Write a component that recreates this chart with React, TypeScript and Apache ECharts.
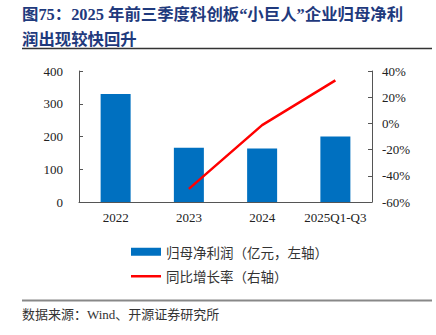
import React, { useEffect, useRef } from "react";
import * as echarts from "echarts";

const categories = ["2022", "2023", "2024", "2025Q1-Q3"];
const profitValues = [330, 166, 163, 200];
const growthValues: (number | null)[] = [null, -50, -1.3, 32.8];
const profitName = "归母净利润（亿元，左轴）";
const growthName = "同比增长率（右轴）";
const titleLine1 = "图75：2025 年前三季度科创板“小巨人”企业归母净利";
const titleLine2 = "润出现较快回升";
const sourceText = "数据来源：Wind、开源证券研究所";

const serif = '"Liberation Serif", "Times New Roman", serif';
const titleFont = '"Liberation Serif", "Noto Sans CJK SC", serif';

export default function App() {
  const ref = useRef<HTMLDivElement>(null);
  useEffect(() => {
    if (!ref.current) return;
    const chart = echarts.init(ref.current, undefined, { renderer: "svg" });
    const axisColor = "#555";
    chart.setOption({
      animation: false,
      backgroundColor: "#fff",
      grid: { left: 79, right: 64, top: 71, bottom: 133 },
      legend: {
        orient: "vertical",
        left: 126,
        top: 240,
        itemWidth: 30,
        itemHeight: 8,
        itemGap: 11,
        symbolKeepAspect: true,
        textStyle: { fontSize: 13.5, color: "#333", fontFamily: '"Noto Sans CJK SC", sans-serif' },
        data: [
          { name: profitName, icon: "rect" },
          { name: growthName, icon: "path://M0,0L30,0L30,2.5L0,2.5Z" },
        ],
      },
      xAxis: {
        type: "category",
        data: categories,
        axisLine: { lineStyle: { color: axisColor, width: 1 } },
        axisTick: { inside: true, length: 4, lineStyle: { color: axisColor } },
        axisLabel: { color: "#222", fontSize: 13, fontFamily: serif, margin: 9, interval: 0 },
      },
      yAxis: [
        {
          type: "value",
          min: 0,
          max: 400,
          interval: 100,
          splitLine: { show: false },
          axisLine: { show: true, lineStyle: { color: axisColor } },
          axisTick: { show: true, inside: true, length: 4, lineStyle: { color: axisColor } },
          axisLabel: { color: "#222", fontSize: 13, fontFamily: serif, margin: 16 },
        },
        {
          type: "value",
          min: -60,
          max: 40,
          interval: 20,
          splitLine: { show: false },
          axisLine: { show: true, lineStyle: { color: axisColor } },
          axisTick: { show: true, inside: true, length: 4, lineStyle: { color: axisColor } },
          axisLabel: { color: "#222", fontSize: 13, fontFamily: serif, margin: 10, formatter: "{value}%" },
        },
      ],
      series: [
        {
          name: profitName,
          type: "bar",
          data: profitValues,
          barWidth: 30,
          itemStyle: { color: "#0070C0" },
        },
        {
          name: growthName,
          type: "line",
          yAxisIndex: 1,
          data: growthValues,
          symbol: "none",
          lineStyle: { color: "#FF0000", width: 2.5 },
          itemStyle: { color: "#FF0000" },
        },
      ],
      graphic: [
        {
          type: "text",
          left: 22,
          top: 6,
          style: { text: titleLine1, fontSize: 16.4, fontWeight: "bold", fill: "#1F3A7D", fontFamily: titleFont },
        },
        {
          type: "text",
          left: 22,
          top: 31,
          style: { text: titleLine2, fontSize: 16.4, fontWeight: "bold", fill: "#1F3A7D", fontFamily: titleFont },
        },
        {
          type: "line",
          shape: { x1: 22, y1: 48.5, x2: 432, y2: 48.5 },
          style: { stroke: "#333", lineWidth: 1.5 },
        },
        {
          type: "line",
          shape: { x1: 22, y1: 300.5, x2: 432, y2: 300.5 },
          style: { stroke: "#888", lineWidth: 2 },
        },
        {
          type: "text",
          left: 22,
          top: 308,
          style: { text: sourceText, fontSize: 13, fill: "#333", fontFamily: titleFont },
        },
      ],
    });
    return () => chart.dispose();
  }, []);
  return <div ref={ref} style={{ position: "fixed", left: 0, top: 0, width: 436, height: 335 }} />;
}
